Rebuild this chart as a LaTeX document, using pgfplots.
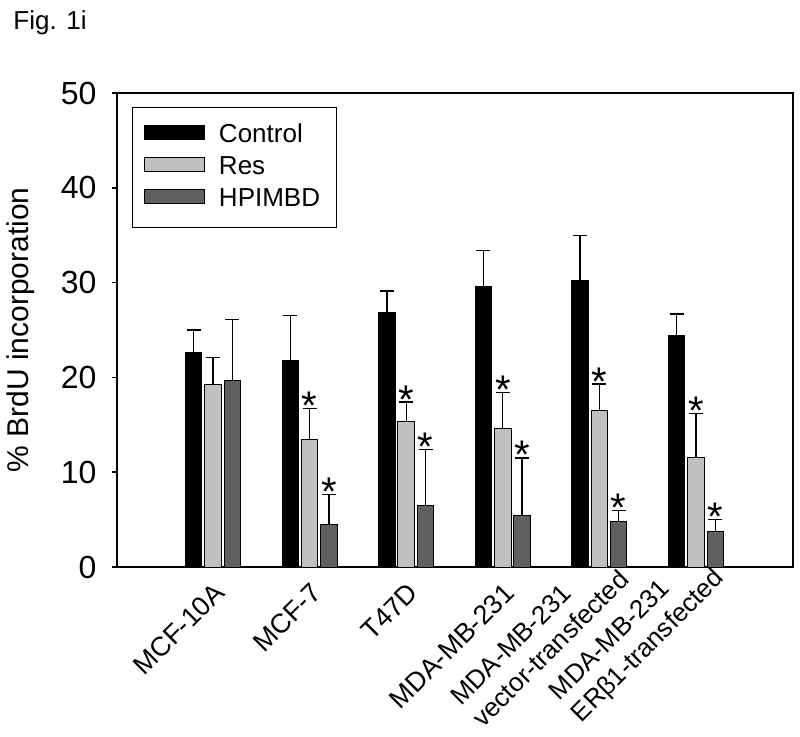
\documentclass[border=0pt]{standalone}
\usepackage{pgfplots}
\pgfplotsset{compat=1.18}
\usepackage{fontspec}
\setmainfont{Liberation Sans}
\definecolor{resgray}{RGB}{192,192,192}
\definecolor{hpgray}{RGB}{96,96,96}
\begin{document}
\begin{tikzpicture}
\useasboundingbox (0,0) rectangle (400pt,368pt);
\node[anchor=base west, font=\fontsize{13}{15}\selectfont, inner sep=0pt] at (6.5pt,353pt) {Fig. 1i};
\begin{axis}[
  at={(58.5pt,84.5pt)}, anchor=south west,
  scale only axis, width=338pt, height=237pt,
  xmin=-0.994, xmax=6.004, ymin=0, ymax=50,
  axis line style={line width=0.75pt},
  ytick={0,10,20,30,40,50},
  ytick pos=left, tick align=outside,
  major tick length=2.5pt,
  ytick style={line width=0.75pt, black},
  /pgf/number format/assume math mode=true,
  yticklabel style={font=\fontsize{16}{18}\selectfont},
  yticklabel shift=4.2pt,
  ylabel={\% BrdU incorporation},
  every axis y label/.style={at={(0,0.5)}, xshift=-48pt, rotate=90, anchor=center, font=\fontsize{15}{17}\selectfont},
  xtick={0,1,2,3},
  xticklabels={MCF-10A, MCF-7, T47D, MDA-MB-231},
  x tick style={draw=none},
  xticklabel style={font=\fontsize{13.5}{15.5}\selectfont, inner sep=0pt, anchor=east, xshift=3.5pt, yshift=-8pt, rotate=45},
  extra x ticks={4,5},
  extra x tick labels={{MDA-MB-231\\vector-transfected}, {MDA-MB-231\\ERβ1-transfected}},
  extra x tick style={x tick style={draw=none}, grid=none,
    every x tick label/.style={font=\fontsize{13}{15.5}\selectfont, inner sep=0pt, anchor=east, align=left, xshift=7pt, yshift=4pt, rotate=45}},
  legend style={at={(0,1)}, anchor=north west, xshift=7.5pt, yshift=-7pt, draw=black, line width=0.5pt,
    font=\fontsize{13}{15}\selectfont, inner xsep=6pt, inner ysep=6pt, row sep=0pt,
    nodes={inner sep=2pt, text height=9.5pt, text depth=2.5pt}},
  legend cell align=left,
  myerr/.style={error bars/.cd, y dir=plus, y explicit,
    error bar style={line width=0.65pt, black},
    error mark options={rotate=90, mark size=3.5pt, line width=0.65pt, black}},
  barleg/.style={legend image code/.code={\path[draw=none, fill=none] (0pt,0pt) -- (35pt,0pt); \draw[##1, line width=0.5pt] (0pt,-1.8pt) rectangle (30pt,5.2pt);}},
]
\addplot[ybar, bar width=0.17, bar shift=0, fill=black, draw=black, line width=0.5pt, barleg, myerr]
 coordinates {(-0.2,22.6) +- (0,2.4) (0.8,21.8) +- (0,4.7) (1.8,26.8) +- (0,2.3) (2.8,29.6) +- (0,3.8) (3.8,30.2) +- (0,4.8) (4.8,24.4) +- (0,2.3)};
\addlegendentry{Control}
\addplot[ybar, bar width=0.17, bar shift=0, fill=resgray, draw=black, line width=0.5pt, barleg, myerr]
 coordinates {(0,19.3) +- (0,2.8) (1,13.5) +- (0,3.2) (2,15.4) +- (0,2.0) (3,14.6) +- (0,3.8) (4,16.5) +- (0,2.8) (5,11.6) +- (0,4.6)};
\addlegendentry{Res}
\addplot[ybar, bar width=0.17, bar shift=0, fill=hpgray, draw=black, line width=0.5pt, barleg, myerr]
 coordinates {(0.2,19.7) +- (0,6.4) (1.2,4.45) +- (0,3.2) (2.2,6.5) +- (0,5.9) (3.2,5.4) +- (0,6.1) (4.2,4.8) +- (0,1.15) (5.2,3.7) +- (0,1.3)};
\addlegendentry{HPIMBD}
\addplot[draw=none, mark=none, nodes near coords={*}, forget plot,
  every node near coord/.append style={anchor=base, yshift=-5.5pt, font=\fontsize{20}{22}\selectfont, inner sep=0pt}]
 coordinates {(1,16.7) (1.2,7.65) (2,17.4) (2.2,12.4) (3,18.4) (3.2,11.5) (4,19.3) (4.2,5.95) (5,16.2) (5.2,5.0)};
\end{axis}
\end{tikzpicture}
\end{document}
